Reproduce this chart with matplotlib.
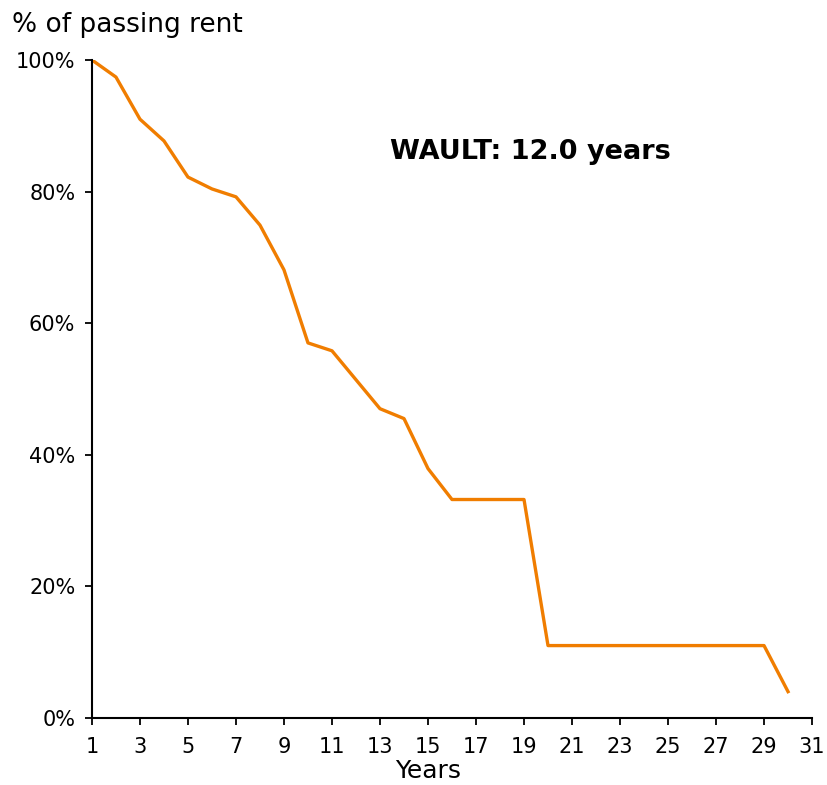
import numpy as np
import matplotlib
matplotlib.use("Agg")
import matplotlib.pyplot as plt

# ==========================================================
# Data
# ==========================================================

years = list(range(1, 31))
passing_rent = [100.0, 97.4, 91.0, 87.7, 82.2, 80.4, 79.2, 74.9, 68.1, 57.0,
                55.8, 51.4, 47.0, 45.5, 37.9, 33.2, 33.2, 33.2, 33.2, 11.0,
                11.0, 11.0, 11.0, 11.0, 11.0, 11.0, 11.0, 11.0, 11.0, 4.0]

x_ticks = list(range(1, 32, 2))
y_ticks = [0, 20, 40, 60, 80, 100]

plt.rcParams["font.family"] = ["DejaVu Sans"]

fig = plt.figure(figsize=(8.27, 7.85), dpi=100)
ax = fig.add_axes([0.1112, 0.0854, 0.8707, 0.8382])

ax.plot(years, passing_rent, color="#F07D00", linewidth=2.4)

ax.set_xlim(1, 31)
ax.set_ylim(0, 100)
ax.set_xticks(x_ticks)
ax.set_yticks(y_ticks)
ax.set_yticklabels([f"{v}%" for v in y_ticks])

ax.spines["top"].set_visible(False)
ax.spines["right"].set_visible(False)
ax.spines["left"].set_linewidth(1.5)
ax.spines["bottom"].set_linewidth(1.5)
ax.tick_params(direction="out", length=5, width=1.3, labelsize=15)
ax.tick_params(axis="x", pad=9)
ax.tick_params(axis="y", pad=7)

ax.set_xlabel("Years", fontsize=18, va="center")
ax.xaxis.set_label_coords(0.467, -0.080)

fig.text(0.0145, 0.985, "% of passing rent", fontsize=19, va="top", ha="left")

# WAULT annotation
ax.text(13.4, 86, "WAULT: 12.0 years", fontsize=19.5, fontweight="bold",
        ha="left", va="center")

fig.savefig("out.png", dpi=100)
